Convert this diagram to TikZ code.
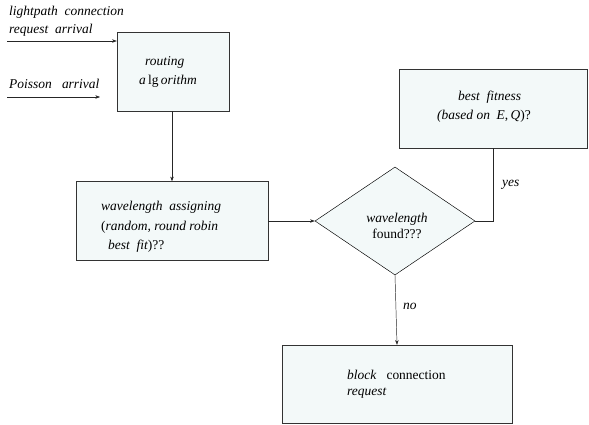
\documentclass[tikz,border=0pt]{standalone}
\usepackage{fontspec}
\setmainfont{Liberation Serif}
\usetikzlibrary{shapes.geometric}
\usetikzlibrary{arrows.meta}

\definecolor{boxfill}{RGB}{243,249,249}
\newcommand{\diagfont}{\fontsize{11.5}{14}\selectfont}
\tikzset{
    block/.style={draw=black!80,fill=boxfill,rectangle,minimum width=#1,inner sep=0pt},
    decide/.style={draw=black,fill=boxfill,diamond,aspect=1.48,minimum width=160*0.03cm,minimum height=108*0.03cm,inner sep=0pt},
    flow/.style={-{Stealth[length=4pt,width=3pt]},black!85,thin},
    lbl/.style={inner sep=0pt,anchor=west,font=\diagfont\itshape}
}

\begin{document}
\begin{tikzpicture}[x=0.03cm,y=-0.03cm,font=\diagfont]
    \useasboundingbox (0,0) rectangle (589,425);

    \node[block=112*0.03cm,minimum height=79*0.03cm] (routing) at (173,71.5) {};
    \node[block=192*0.03cm,minimum height=79*0.03cm] (assign) at (172,221) {};
    \node[decide] (found) at (395,221) {};
    \node[block=188*0.03cm,minimum height=79*0.03cm] (fitness) at (493,108.5) {};
    \node[block=230*0.03cm,minimum height=78*0.03cm] (blocked) at (397,384) {};

    % texts
    \node[lbl] (lightpath) at (9,12) {lightpath\ \ connection};
    \node[lbl] (request) at (9,30) {request\ \ arrival};
    \node[lbl] (poisson) at (9,84) {Poisson\ \ \ arrival};
    \node[lbl] (routingtxt) at (145,62) {routing};
    \node[lbl] (algotxt) at (139,81) {a\,\upshape lg\,\itshape orithm};
    \node[lbl] (assigntxt1) at (101,207) {wavelength\ \ assigning};
    \node[lbl] (assigntxt2) at (101,227) {\upshape(\itshape random,\ round robin};
    \node[lbl] (assigntxt3) at (108,246) {best\ \ fit\upshape)??};
    \node[inner sep=0pt,align=center] (foundtxt) at (397,226) {\textit{wavelength}\\found???};
    \node[lbl] (fittxt1) at (458,97) {best\ \ fitness};
    \node[lbl] (fittxt2) at (437,116) {(based on\ \ E\upshape,\,\itshape Q\upshape)?};
    \node[lbl] (blocktxt1) at (347,375) {block\ \ \ \upshape connection};
    \node[lbl] (blocktxt2) at (347,393) {request};
    \node[lbl] (yes) at (502,185) {yes};
    \node[lbl] (no) at (403,306) {no};

    % connectors
    \coordinate (lightin) at (7,41);
    \coordinate (poissonin) at (7,97);
    \coordinate (poissonend) at (100,97);
    \draw[flow] (lightin) -- (lightin -| routing.west);
    \draw[flow] (poissonin) -- (poissonend);
    \draw[flow] (routing.south -| assign.north) -- (assign.north);
    \draw[flow] (assign.east) -- (found.west);
    \draw[black!85,thin] (found.east) -| (fitness.south);
    \draw[flow] (found.south) -- (blocked.north);
\end{tikzpicture}
\end{document}
